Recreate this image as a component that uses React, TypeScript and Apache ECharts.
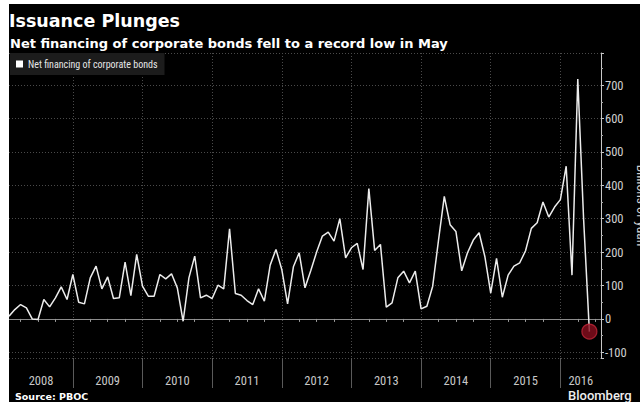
import React, { useEffect, useRef } from 'react';
import * as echarts from 'echarts';

// Year bands shown under the axis
const years = ['2008', '2009', '2010', '2011', '2012', '2013', '2014', '2015', '2016'];

// Monthly net financing of corporate bonds, billions of yuan (Jan 2008 .. May 2016)
const netFinancing2008 = [8, 28, 43, 33, 0, -2, 58, 36, 63, 96, 58, 133];
const netFinancing2009 = [50, 45, 123, 158, 90, 126, 61, 63, 170, 70, 193, 98];
const netFinancing2010 = [68, 68, 133, 120, 135, 93, -7, 123, 188, 63, 71, 61];
const netFinancing2011 = [101, 90, 270, 76, 71, 55, 43, 90, 53, 161, 208, 148];
const netFinancing2012 = [45, 156, 198, 93, 145, 200, 248, 260, 233, 300, 183, 213];
const netFinancing2013 = [226, 148, 390, 205, 223, 35, 48, 123, 143, 108, 143, 30];
const netFinancing2014 = [38, 98, 235, 367, 282, 262, 144, 198, 236, 258, 186, 77];
const netFinancing2015 = [181, 65, 131, 158, 168, 204, 271, 288, 350, 305, 335, 357];
const netFinancing2016 = [457, 131, 718, 300, -38];

const netFinancing = [
  ...netFinancing2008, ...netFinancing2009, ...netFinancing2010, ...netFinancing2011,
  ...netFinancing2012, ...netFinancing2013, ...netFinancing2014, ...netFinancing2015,
  ...netFinancing2016,
];

const seriesName = 'Net financing of corporate bonds';
const axisMonths = 103; // axis runs on to Jul 2016

const categories: string[] = [];
for (let k = 0; k < axisMonths; k++) {
  const y = years[Math.floor(k / 12)];
  const m = (k % 12) + 1;
  categories.push(`${y}-${m < 10 ? '0' + m : m}`);
}

const NARROW = '"Liberation Sans Narrow", "Roboto Condensed", "Liberation Sans", sans-serif';
const BOLD = '"DejaVu Sans", "Noto Sans", sans-serif';

const yearLabelAt = (i: number) =>
  i === 5 || i === 98 || (i >= 17 && i <= 89 && (i - 17) % 12 === 0);

export default function App() {
  const ref = useRef<HTMLDivElement>(null);
  useEffect(() => {
    if (!ref.current) return;
    const chart = echarts.init(ref.current, null, { renderer: 'svg' });
    const last = netFinancing.length - 1;
    chart.setOption({
      animation: false,
      backgroundColor: '#000',
      title: [
        {
          text: 'Issuance Plunges', left: 0, top: 8, padding: 0,
          textStyle: { color: '#fff', fontSize: 17.5, fontWeight: 'bold', fontFamily: BOLD },
        },
        {
          text: 'Net financing of corporate bonds fell to a record low in May', left: 1, top: 33, padding: 0,
          textStyle: { color: '#fff', fontSize: 13, fontWeight: 'bold', fontFamily: BOLD },
        },
      ],
      legend: {
        data: [seriesName], left: 1, top: 49, padding: [6, 7, 6, 6], backgroundColor: '#1c1c1c',
        icon: 'rect', itemWidth: 7, itemHeight: 7,
        textStyle: { color: '#e6e6e6', fontSize: 10, fontFamily: NARROW },
      },
      grid: { left: 0, right: 39, top: 49, bottom: 44, containLabel: false, outerBoundsMode: 'none' },
      xAxis: [
        {
          type: 'category', data: categories, boundaryGap: false, position: 'bottom',
          axisLine: { show: true, lineStyle: { color: '#8c8c8c', width: 1 } },
          axisTick: {
            show: true, length: 3, interval: (i: number) => i % 3 === 2 && i % 12 !== 11,
            lineStyle: { color: '#9a9a9a' },
          },
          axisLabel: {
            show: true, interval: (i: number) => yearLabelAt(i), margin: 16,
            formatter: (v: string, i: number) => {
              const y = v.slice(0, 4);
              return i === 5 || i === 98 ? `{s|${y}}` : `{n|${y}}`;
            },
            rich: {
              n: { color: '#c8c8c8', fontSize: 12.5, fontFamily: NARROW },
              s: { color: '#c8c8c8', fontSize: 12.5, fontFamily: NARROW, padding: [0, 0, 0, 6] },
            },
          },
          splitLine: {
            show: true, interval: (i: number) => i % 12 === 11,
            lineStyle: { color: '#4a4a4a', type: [1, 2] },
          },
        },
        {
          type: 'category', data: categories, boundaryGap: false, position: 'bottom',
          axisLine: { show: false },
          axisTick: {
            show: true, length: 30, interval: (i: number) => i % 12 === 11,
            lineStyle: { color: '#5a5a5a' },
          },
          axisLabel: { show: false },
          splitLine: { show: false },
        },
      ],
      yAxis: {
        type: 'value', position: 'right', min: -117, max: 796, splitNumber: 9,
        axisLine: { show: true, lineStyle: { color: '#c8c8c8', width: 1 } },
        axisTick: { show: true, length: 3, lineStyle: { color: '#c8c8c8' } },
        minorTick: { show: true, splitNumber: 2, length: 2, lineStyle: { color: '#aaa' } },
        axisLabel: {
          color: '#d0d0d0', fontSize: 12.5, margin: 4, fontFamily: NARROW,
          formatter: (v: number) => (v % 100 === 0 ? String(v) : ''),
        },
        splitLine: { show: true, lineStyle: { color: '#4a4a4a', type: [1, 2] } },
        name: 'Billions of yuan', nameLocation: 'middle', nameRotate: -90, nameGap: 34,
        nameMoveOverlap: false,
        nameTextStyle: { color: '#cfcfcf', fontSize: 13.5, fontFamily: NARROW },
      },
      series: [
        {
          name: seriesName, type: 'line', data: netFinancing, xAxisIndex: 0, symbol: 'none',
          lineStyle: { color: '#ececec', width: 1.5 }, itemStyle: { color: '#ffffff' }, z: 3,
        },
        {
          name: 'latest', type: 'scatter', xAxisIndex: 0,
          data: [[categories[last], netFinancing[last]]],
          symbolSize: 15,
          itemStyle: { color: '#8a0e1e', borderColor: '#c3283a', borderWidth: 1.2 }, z: 4,
        },
      ],
      graphic: [
        {
          type: 'text', left: 6, top: 387,
          style: { text: 'Source: PBOC', fill: '#fff', fontSize: 9.5, fontWeight: 'bold', fontFamily: BOLD },
        },
        {
          type: 'text', left: 559, top: 385,
          style: { text: 'Bloomberg', fill: '#eee', fontSize: 13, fontFamily: '"Roboto", sans-serif', fontWeight: 500 },
        },
      ],
    });
    return () => chart.dispose();
  }, []);
  return (
    <div
      ref={ref}
      style={{ position: 'absolute', left: 9, top: 4, width: 631, height: 398, background: '#000' }}
    />
  );
}
